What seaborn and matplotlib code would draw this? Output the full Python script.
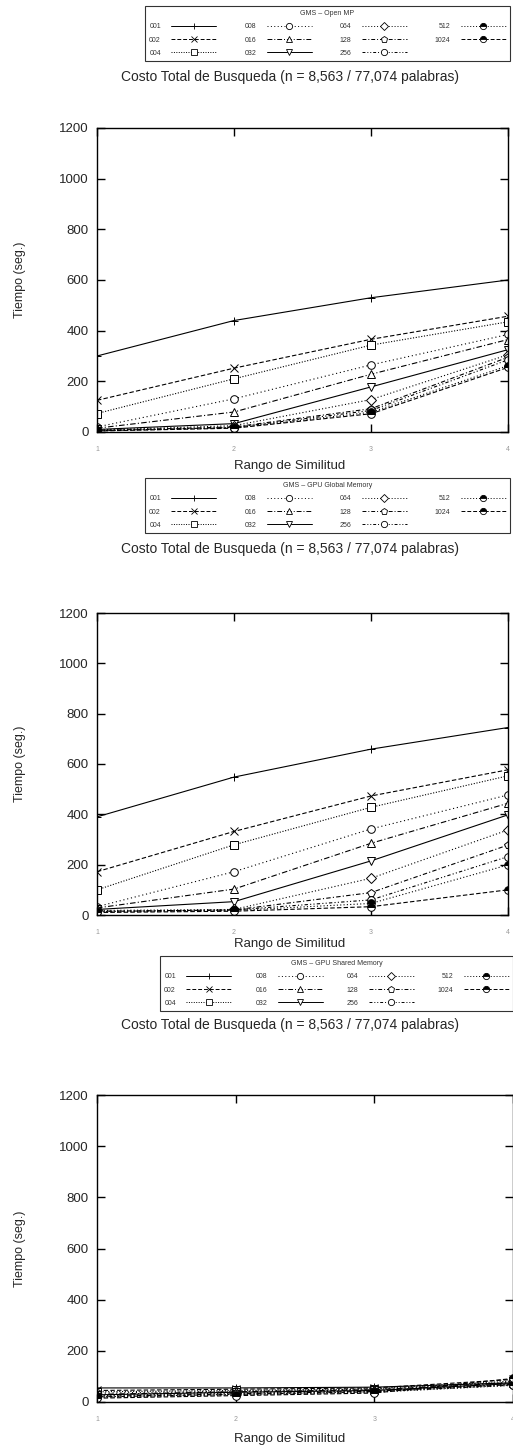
import matplotlib
matplotlib.use("Agg")
import matplotlib.pyplot as plt
from matplotlib.lines import Line2D
import seaborn as sns
import pandas as pd

# ---------------- data ----------------
rango = [1, 2, 3, 4]
series = ["001", "002", "004", "008", "016", "032", "064", "128", "256", "512", "1024"]

openmp = {
    "001": [300, 440, 530, 600],
    "002": [125, 252, 366, 457],
    "004": [73, 210, 343, 435],
    "008": [20, 131, 265, 385],
    "016": [15, 79, 228, 365],
    "032": [10, 33, 178, 325],
    "064": [8, 25, 128, 305],
    "128": [6, 20, 92, 295],
    "256": [5, 18, 85, 285],
    "512": [5, 16, 78, 262],
    "1024": [4, 15, 72, 255],
}
global_mem = {
    "001": [390, 548, 659, 745],
    "002": [172, 332, 473, 577],
    "004": [100, 279, 428, 553],
    "008": [33, 172, 342, 477],
    "016": [28, 103, 285, 444],
    "032": [22, 53, 215, 398],
    "064": [18, 22, 146, 338],
    "128": [15, 20, 89, 278],
    "256": [14, 20, 60, 232],
    "512": [12, 18, 46, 199],
    "1024": [10, 15, 33, 100],
}
shared_mem = {
    "001": [55, 55, 58, 75],
    "002": [45, 50, 55, 88],
    "004": [40, 45, 52, 82],
    "008": [35, 42, 50, 78],
    "016": [30, 40, 48, 75],
    "032": [28, 38, 45, 72],
    "064": [25, 35, 44, 70],
    "128": [22, 32, 42, 68],
    "256": [20, 30, 40, 66],
    "512": [18, 28, 38, 65],
    "1024": [15, 25, 35, 92],
}
legend_titles = ["GMS \u2013 Open MP", "GMS \u2013 GPU Global Memory", "GMS \u2013 GPU Shared Memory"]
chart_title = "Costo Total de Busqueda (n = 8,563 / 77,074 palabras)"
xlabel = "Rango de Similitud"
ylabel = "Tiempo (seg.)"
yticks = [0, 200, 400, 600, 800, 1000, 1200]

# ---------------- styles ----------------
styles = {
    "001": dict(marker="+", ls="-", fill="none"),
    "002": dict(marker="x", ls=(0, (4, 2)), fill="none"),
    "004": dict(marker="s", ls=(0, (1, 1.5)), fill="none"),
    "008": dict(marker="o", ls=(0, (1, 2.5)), fill="none"),
    "016": dict(marker="^", ls=(0, (5, 2, 1, 2)), fill="none"),
    "032": dict(marker="v", ls="-", fill="none"),
    "064": dict(marker="D", ls=(0, (1, 2)), fill="none"),
    "128": dict(marker="p", ls=(0, (4, 2, 1, 2)), fill="none"),
    "256": dict(marker="o", ls=(0, (3, 2, 1, 2, 1, 2)), fill="none"),
    "512": dict(marker="o", ls=(0, (1, 2)), fill="top"),
    "1024": dict(marker="o", ls=(0, (4, 2)), fill="top"),
}

sns.set_theme(style="ticks")
plt.rcParams["font.family"] = ["Liberation Sans", "DejaVu Sans"]

W, H = 513, 1450
fig = plt.figure(figsize=(W / 100, H / 100), dpi=100)


def fx(px):
    return px / W


def fy(px):
    return 1 - px / H


def draw_panel(data, leg_title, ax_box, leg_box, title_y, xlabel_y):
    l, t, r, b = ax_box
    ax = fig.add_axes([fx(l), fy(b), fx(r - l), (b - t) / H])
    for s in series:
        st = styles[s]
        sns.lineplot(x=rango, y=data[s], ax=ax, color="black", lw=0.8,
                     marker=st["marker"], linestyle=st["ls"],
                     mfc="white", mec="black", mew=0.7, ms=5.5, legend=False)
        line = ax.lines[-1]
        if st["fill"] == "top":
            line.set_markerfacecolor("black")
            line.set_fillstyle("top")
            line.set_markerfacecoloralt("white")
    ax.set_xlim(1, 4)
    ax.set_ylim(0, 1200)
    ax.set_xticks(rango)
    ax.set_yticks(yticks)
    ax.tick_params(axis="both", direction="in", length=6, width=1.0,
                   top=True, right=True, color="black")
    ax.tick_params(axis="y", labelsize=9.5, pad=6)
    ax.tick_params(axis="x", labelsize=5, labelcolor="#999999", pad=10)
    for sp in ax.spines.values():
        sp.set_linewidth(1.0)
        sp.set_color("black")
    ax.set_xlabel("")
    ax.set_ylabel("")
    ax.patch.set_facecolor("white")
    fig.text(fx(290), fy(title_y), chart_title, ha="center", va="center", fontsize=10)
    fig.text(fx(290), fy(xlabel_y), xlabel, ha="center", va="center", fontsize=9.5)
    fig.text(fx(20), fy((t + b) / 2), ylabel, ha="center", va="center",
             rotation=90, fontsize=9)

    # legend box
    ll, lt, lr, lb = leg_box
    lax = fig.add_axes([fx(ll), fy(lb), fx(lr - ll), (lb - lt) / H])
    lax.set_axis_off()
    handles = []
    for s in series:
        st = styles[s]
        h = Line2D([], [], color="black", lw=0.7, marker=st["marker"],
                   linestyle=st["ls"], mfc="white", mec="black", mew=0.6, ms=4.5)
        if st["fill"] == "top":
            h.set_markerfacecolor("black")
            h.set_fillstyle("top")
            h.set_markerfacecoloralt("white")
        handles.append(h)
    leg = lax.legend(handles, series, ncol=4, loc="upper left",
                     bbox_to_anchor=(0, 0, 1, 1), mode="expand",
                     title=leg_title, title_fontsize=5, fontsize=5,
                     markerfirst=False, handlelength=6.5, handletextpad=1.5,
                     columnspacing=2.0, labelspacing=0.9, borderaxespad=0,
                     frameon=True, fancybox=False, edgecolor="black",
                     borderpad=0.6)
    leg.get_frame().set_linewidth(0.8)
    leg.get_title().set_color("#333333")
    for txt in leg.get_texts():
        txt.set_color("#333333")
    return ax


draw_panel(openmp, legend_titles[0], (97, 128, 508, 432), (145, 6, 510, 58), 77, 466)
draw_panel(global_mem, legend_titles[1], (97, 613, 508, 915), (145, 478, 510, 530), 549, 944)
draw_panel(shared_mem, legend_titles[2], (97, 1095, 513, 1402), (160, 956, 513, 1008), 1025, 1439)

fig.savefig("out.png", dpi=100, facecolor="white")
